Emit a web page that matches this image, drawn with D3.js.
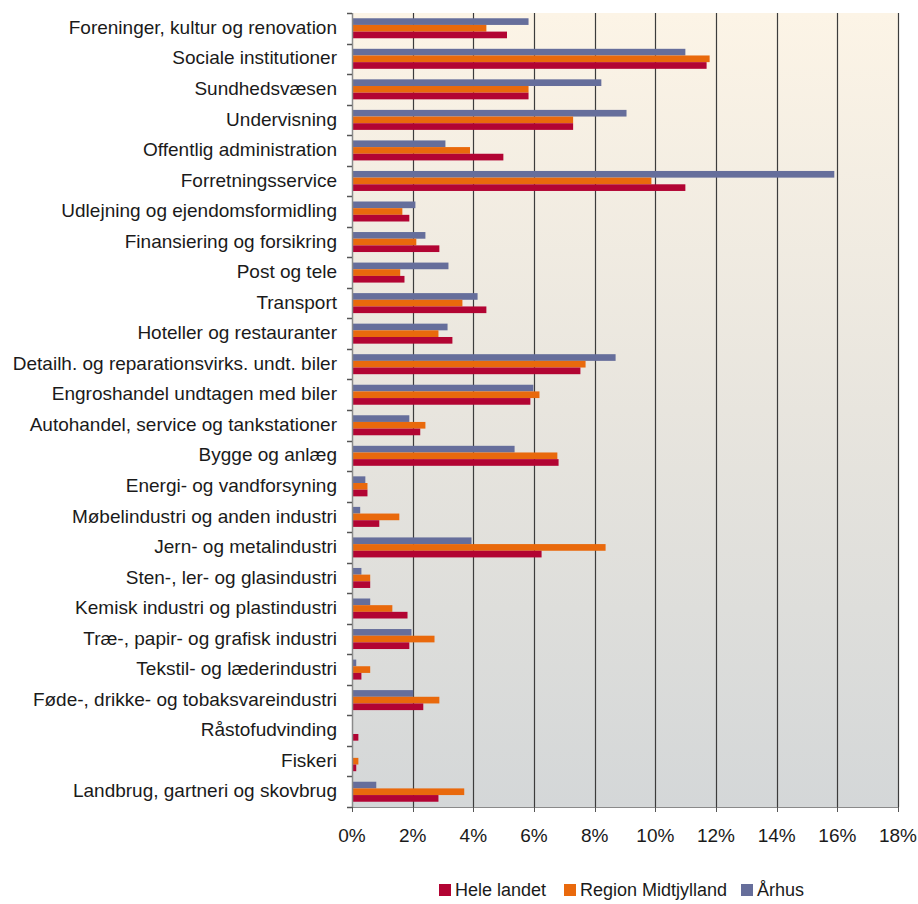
<!DOCTYPE html>
<html>
<head>
<meta charset="utf-8">
<script src="https://cdn.jsdelivr.net/npm/d3@7"></script>
<style>
body { margin: 0; background: #ffffff; }
text { font-family: "Liberation Sans", Arial, sans-serif; fill: #1a1a1a; }
</style>
</head>
<body>
<div id="chart"></div>
<script>
// categories, top to bottom
var categories = [
	"Foreninger, kultur og renovation",
	"Sociale institutioner",
	"Sundhedsvæsen",
	"Undervisning",
	"Offentlig administration",
	"Forretningsservice",
	"Udlejning og ejendomsformidling",
	"Finansiering og forsikring",
	"Post og tele",
	"Transport",
	"Hoteller og restauranter",
	"Detailh. og reparationsvirks. undt. biler",
	"Engroshandel undtagen med biler",
	"Autohandel, service og tankstationer",
	"Bygge og anlæg",
	"Energi- og vandforsyning",
	"Møbelindustri og anden industri",
	"Jern- og metalindustri",
	"Sten-, ler- og glasindustri",
	"Kemisk industri og plastindustri",
	"Træ-, papir- og grafisk industri",
	"Tekstil- og læderindustri",
	"Føde-, drikke- og tobaksvareindustri",
	"Råstofudvinding",
	"Fiskeri",
	"Landbrug, gartneri og skovbrug"
];

// percent values
var aarhus = [5.82, 10.99, 8.22, 9.05, 3.08, 15.9, 2.09, 2.42, 3.18, 4.14, 3.15, 8.69, 5.98, 1.89, 5.36, 0.44, 0.27, 3.94, 0.31, 0.60, 1.96, 0.14, 2.02, 0, 0, 0.80];
var regionMidt = [4.43, 11.79, 5.82, 7.29, 3.89, 9.87, 1.66, 2.12, 1.59, 3.64, 2.85, 7.70, 6.18, 2.42, 6.77, 0.51, 1.56, 8.36, 0.60, 1.33, 2.72, 0.60, 2.88, 0, 0.21, 3.70];
var heleLandet = [5.11, 11.69, 5.82, 7.29, 4.99, 10.99, 1.89, 2.88, 1.73, 4.43, 3.31, 7.53, 5.88, 2.25, 6.81, 0.51, 0.90, 6.25, 0.60, 1.83, 1.89, 0.31, 2.35, 0.21, 0.14, 2.85];

var xTicks = [0, 2, 4, 6, 8, 10, 12, 14, 16, 18];

var series = [
	{name: "Århus", values: aarhus, color: "#666e9b"},
	{name: "Region Midtjylland", values: regionMidt, color: "#e9690c"},
	{name: "Hele landet", values: heleLandet, color: "#b20433"}
];
var legendOrder = ["Hele landet", "Region Midtjylland", "Århus"];

var width = 918, height = 904;
var pLeft = 352, pRight = 898, pTop = 13, pBottom = 807;
var fontSize = "18px";

var svg = d3.select("#chart").append("svg")
	.attr("width", width)
	.attr("height", height);

var defs = svg.append("defs");
var grad = defs.append("linearGradient")
	.attr("id", "bg")
	.attr("x1", 0).attr("y1", 0)
	.attr("x2", 0).attr("y2", 1);
grad.append("stop").attr("offset", "0%").attr("stop-color", "#fcf4e6");
grad.append("stop").attr("offset", "50%").attr("stop-color", "#e8e5de");
grad.append("stop").attr("offset", "100%").attr("stop-color", "#d4d7d8");

var x = d3.scaleLinear().domain([0, 18]).range([pLeft, pRight]);
var y0 = d3.scaleBand().domain(categories).range([pTop, pBottom]).padding(0);
var groupH = 20;
var y1 = d3.scaleBand()
	.domain(series.map(function(s){ return s.name; }))
	.range([(y0.bandwidth() - groupH) / 2, (y0.bandwidth() + groupH) / 2]);

// plot area
svg.append("rect")
	.attr("x", pLeft).attr("y", pTop)
	.attr("width", pRight - pLeft).attr("height", pBottom - pTop)
	.attr("fill", "url(#bg)");

// gridlines
svg.append("g").selectAll("line")
	.data(xTicks.slice(1))
	.enter().append("line")
	.attr("x1", function(d){ return Math.round(x(d)) + 0.5; })
	.attr("x2", function(d){ return Math.round(x(d)) + 0.5; })
	.attr("y1", pTop).attr("y2", pBottom)
	.attr("stroke", "#3c3c3c")
	.attr("stroke-width", 1.2);

// bars
var groups = svg.append("g").selectAll("g")
	.data(categories)
	.enter().append("g")
	.attr("transform", function(d){ return "translate(0," + y0(d) + ")"; });

series.forEach(function(s){
	groups.append("rect")
		.attr("x", x(0))
		.attr("y", y1(s.name))
		.attr("width", function(d, i){ return x(s.values[i]) - x(0); })
		.attr("height", y1.bandwidth())
		.attr("fill", s.color);
});

// y axis
var yAxis = svg.append("g")
	.attr("transform", "translate(" + pLeft + ",0)");
yAxis.append("line")
	.attr("x1", 0.5).attr("x2", 0.5)
	.attr("y1", pTop).attr("y2", pBottom)
	.attr("stroke", "#8a8a8a").attr("stroke-width", 1.5);
var yTickPos = categories.map(function(c){ return y0(c); }).concat([pBottom]);
yAxis.selectAll(".ytick")
	.data(yTickPos)
	.enter().append("line")
	.attr("class", "ytick")
	.attr("x1", -5).attr("x2", 0)
	.attr("y1", function(d){ return Math.round(d) + 0.5; })
	.attr("y2", function(d){ return Math.round(d) + 0.5; })
	.attr("stroke", "#555").attr("stroke-width", 1.5);
yAxis.selectAll(".ylabel")
	.data(categories)
	.enter().append("text")
	.attr("class", "ylabel")
	.attr("x", -15)
	.attr("y", function(d){ return y0(d) + y0.bandwidth() / 2 - 1; })
	.attr("dy", "0.35em")
	.attr("text-anchor", "end")
	.style("font-size", "19px")
	.text(function(d){ return d; });

// x axis
var xAxis = svg.append("g")
	.attr("transform", "translate(0," + pBottom + ")");
xAxis.append("line")
	.attr("x1", pLeft).attr("x2", pRight)
	.attr("y1", 0.5).attr("y2", 0.5)
	.attr("stroke", "#8a8a8a").attr("stroke-width", 1);
xAxis.selectAll(".xtick")
	.data(xTicks)
	.enter().append("line")
	.attr("class", "xtick")
	.attr("x1", function(d){ return Math.round(x(d)) + 0.5; })
	.attr("x2", function(d){ return Math.round(x(d)) + 0.5; })
	.attr("y1", 0).attr("y2", 5)
	.attr("stroke", "#555");
xAxis.selectAll(".xlabel")
	.data(xTicks)
	.enter().append("text")
	.attr("class", "xlabel")
	.attr("x", function(d){ return x(d); })
	.attr("y", 35)
	.attr("text-anchor", "middle")
	.style("font-size", "19px")
	.text(function(d){ return d + "%"; });

// legend
var legendX = [439, 564, 741];
var legend = svg.append("g").attr("transform", "translate(0,890)");
legendOrder.forEach(function(name, i){
	var s = series.filter(function(t){ return t.name == name; })[0];
	legend.append("rect")
		.attr("x", legendX[i]).attr("y", -6)
		.attr("width", 12).attr("height", 12)
		.attr("fill", s.color);
	legend.append("text")
		.attr("x", legendX[i] + 16)
		.attr("y", 0)
		.attr("dy", "0.35em")
		.style("font-size", fontSize)
		.text(name);
});
</script>
</body>
</html>
